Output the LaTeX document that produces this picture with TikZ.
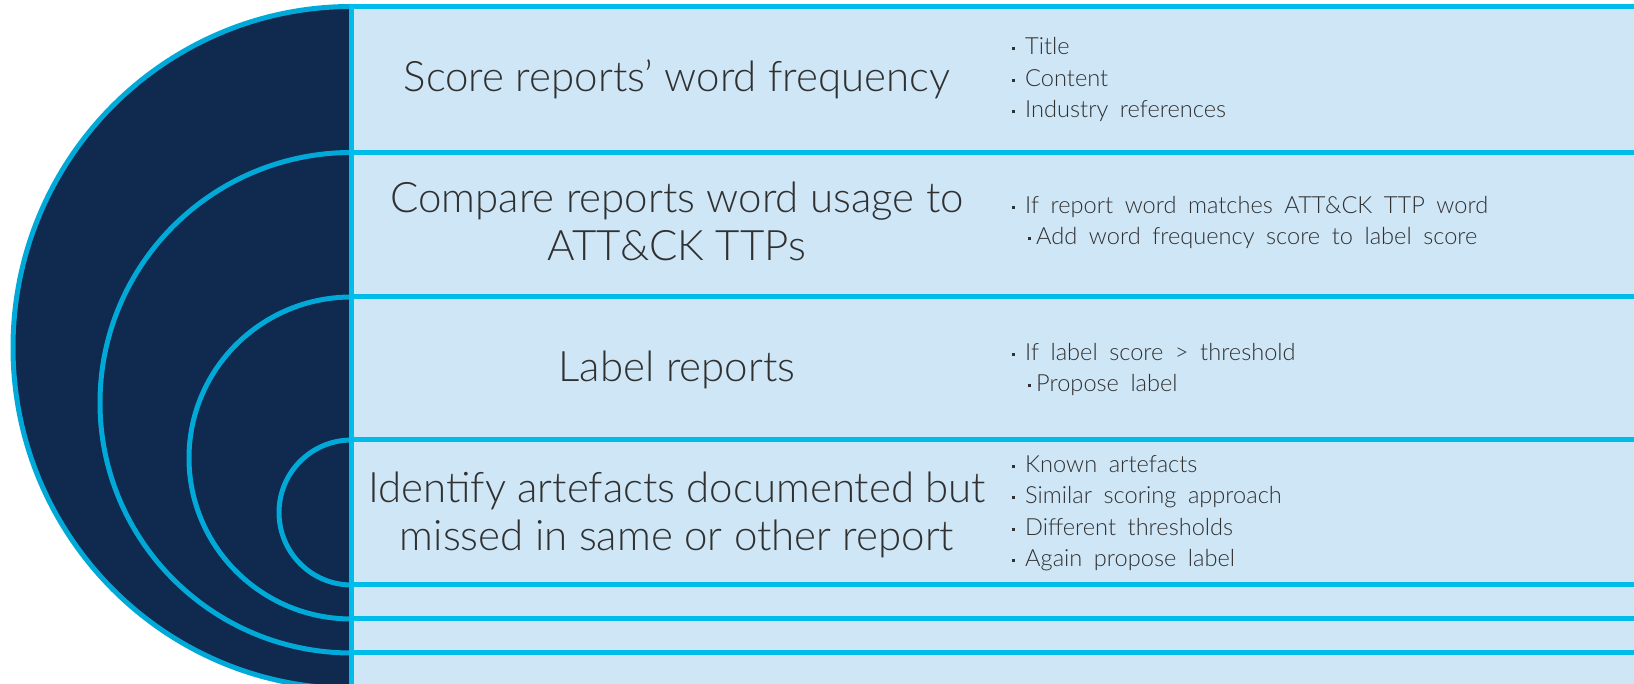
\documentclass[tikz,border=0pt]{standalone}
\usepackage{fontspec}
\setmainfont{Lato Light}
\newfontfamily\bulfont{Lato Light}[WordSpace=1.8]
\definecolor{navy}{HTML}{0F2A4E}
\definecolor{cyanline}{HTML}{00BCEB}
\definecolor{cyanarc}{HTML}{00A9D8}
\definecolor{paleblue}{HTML}{CEE6F6}
\definecolor{txt}{HTML}{303030}
\newcommand{\bul}{\makebox[13pt][l]{\raisebox{4.5pt}{\rule{3pt}{3pt}}}}
\newcommand{\subbul}{\hspace{16pt}\makebox[8pt][l]{\raisebox{4.5pt}{\rule{3pt}{3pt}}}}
\tikzset{
  sepline/.style={draw=cyanline, line width=5pt},
  ring/.style={draw=cyanarc, line width=5pt},
  mainlabel/.style={text=txt, inner sep=0pt, align=center, anchor=base,
    font=\fontsize{42}{48}\selectfont},
  bullets/.style={text=txt, inner sep=0pt, align=left, anchor=base west,
    font=\bulfont\fontsize{23.6}{31.5}\selectfont}
}
\begin{document}
\begin{tikzpicture}[x=1pt,y=1pt]
\useasboundingbox (0,0) rectangle (1634,684);
\clip (0,0) rectangle (1634,684);
\fill[white] (0,0) rectangle (1634,684);
% pale panel
\fill[paleblue] (351.5,0) rectangle (1634,677.5);
% navy half disc
\fill[navy] (351.5,677.5) arc[start angle=90, end angle=270, x radius=338.5, y radius=341] -- cycle;
\draw[ring] (351.5,677.5) arc[start angle=90, end angle=270, x radius=338.5, y radius=341];
% inner rings
\draw[ring] (351.5,531.5) arc[start angle=90, end angle=270, x radius=251.5, y radius=250.25];
\draw[ring] (351.5,387) arc[start angle=90, end angle=270, x radius=162.5, y radius=161];
\draw[ring] (351.5,244) arc[start angle=90, end angle=270, x radius=72.5, y radius=72.5];
% separators
\foreach \yy in {677.5,531.5,387,244,99,65,31}
  \draw[sepline] (349,\yy) -- (1640,\yy);
\draw[sepline] (351.5,680) -- (351.5,-5);
% main labels (anchor = baseline of last line)
\node[mainlabel] (m1) at (677,592) {Score reports’ word frequency};
\node[mainlabel] (m2) at (677,423) {Compare reports word usage to\\ATT\&CK TTPs};
\node[mainlabel] (m3) at (677,302) {Label reports};
\node[mainlabel] (m4) at (677,133) {Identify artefacts documented but\\missed in same or other report};
% bullet lists
\node[bullets] (b1) at (1012,566) {\bul Title\\\bul Content\\\bul Industry references};
\node[bullets] (b2) at (1012,439) {\bul If report word matches ATT\&CK TTP word\\\subbul Add word frequency score to label score};
\node[bullets] (b3) at (1012,292) {\bul If label score > threshold\\\subbul Propose label};
\node[bullets] (b4) at (1012,117) {\bul Known artefacts\\\bul Similar scoring approach\\\bul Different thresholds\\\bul Again propose label};
\end{tikzpicture}
\end{document}
